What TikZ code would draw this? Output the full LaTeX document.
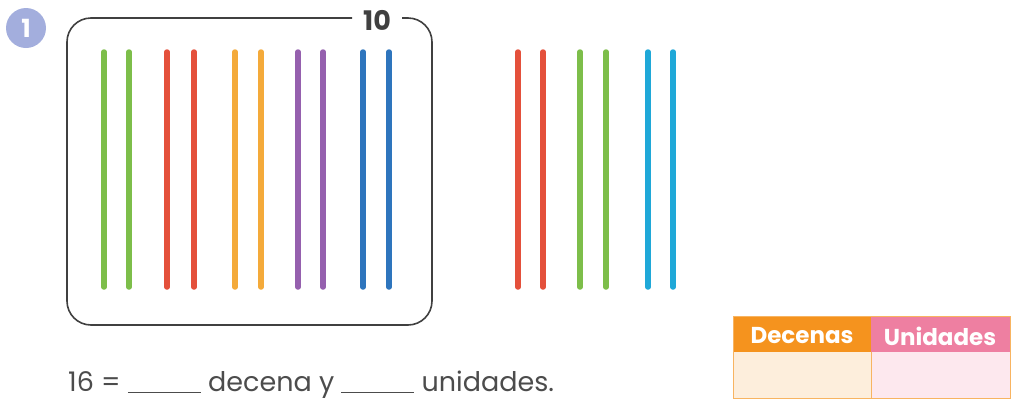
\documentclass[tikz,border=0pt]{standalone}
\usepackage{fontspec}
\setmainfont{Poppins}
\begin{document}
\begin{tikzpicture}[x=1pt,y=-1pt,
  stick/.style={line width=5.5pt,line cap=round},
  frame/.style={draw=black!75,line width=1.6pt,rounded corners=24pt},
  hdr/.style={font=\bfseries\fontsize{23}{24}\selectfont,text=white,inner sep=0pt},
  txt/.style={font=\fontsize{27}{28}\selectfont,text=black!70,anchor=base west,inner sep=0pt}]
\definecolor{cgreen}{HTML}{7DBE4A}
\definecolor{cred}{HTML}{E4503B}
\definecolor{corange}{HTML}{F4AA3A}
\definecolor{cpurple}{HTML}{9560AE}
\definecolor{cblue}{HTML}{2E75BD}
\definecolor{ccyan}{HTML}{1FA8D8}
\definecolor{circ}{HTML}{A3AEDD}
\definecolor{horange}{HTML}{F5931E}
\definecolor{hpink}{HTML}{EE7FA1}
\definecolor{borange}{HTML}{FDEEDC}
\definecolor{bpink}{HTML}{FDE8EE}
\useasboundingbox (0,0) rectangle (1013,402);
% number badge
\node[circle,fill=circ,minimum size=40pt,inner sep=0pt,text=white,font=\bfseries\fontsize{25}{25}\selectfont] (badge) at (26,28) {1};
% frame
\node[font=\bfseries\fontsize{27}{27}\selectfont,text=black!75,inner sep=0pt] (ten) at (377,20) {10};
\draw[frame] (352,18) -- (67,18) -- (67,325) -- (432,325) -- (432,18) -- (402,18);
% sticks in box
\foreach \x/\c in {104/cgreen,129/cgreen,167/cred,194/cred,235/corange,261/corange,298/cpurple,323/cpurple,363/cblue,389/cblue}
  \draw[stick,\c] (\x,52) -- (\x,287);
\foreach \x/\c in {518/cred,543/cred,580/cgreen,606/cgreen,648/ccyan,673/ccyan}
  \draw[stick,\c] (\x,52) -- (\x,287);
% equation
\node[txt] (eq) at (68,391) {16 = \underline{\hphantom{aaaa}} decena y \underline{\hphantom{aaaa}} unidades.};
% table
\fill[horange] (733,316) rectangle (871,352);
\fill[hpink] (871,316) rectangle (1010,352);
\fill[borange] (733,352) rectangle (871,398);
\fill[bpink] (871,352) rectangle (1010,398);
\draw[horange!70,line width=0.8pt] (733,316) rectangle (1010,398);
\draw[horange!70,line width=0.8pt] (871,352) -- (871,398);
\node[hdr] (dec) at (802,336) {Decenas};
\node[hdr] (uni) at (940,336) {Unidades};
\end{tikzpicture}
\end{document}
